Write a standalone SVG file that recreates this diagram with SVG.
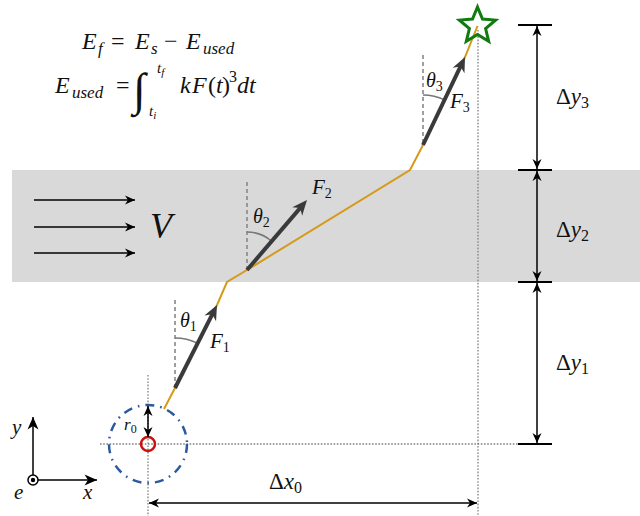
<svg xmlns="http://www.w3.org/2000/svg" width="640" height="516" viewBox="0 0 640 516">
<style>
.m{font-family:"Liberation Serif","Times New Roman",serif;font-style:italic;fill:#111}
.u{font-style:normal}
.dot{stroke:#808080;stroke-width:1.3;stroke-dasharray:1.6 1.6;fill:none}
.dash{stroke:#888;stroke-width:1.6;stroke-dasharray:4 3;fill:none}
.arc{stroke:#777;stroke-width:1.5;fill:none}
.vec{stroke:#3a3a3a;stroke-width:4;fill:none;marker-end:url(#vh)}
.dim{stroke:#000;stroke-width:1.5;fill:none;marker-start:url(#dh);marker-end:url(#dh)}
.flow{stroke:#000;stroke-width:1.5;fill:none;marker-end:url(#dh)}
.bar{stroke:#000;stroke-width:2.2}
</style>
<defs>
<marker id="vh" markerUnits="userSpaceOnUse" markerWidth="18" markerHeight="16" viewBox="-16 -8 18 16" refX="-8" refY="0" orient="auto" overflow="visible">
<path d="M0,0 L-15,-6.5 L-10.5,0 L-15,6.5 Z" fill="#3a3a3a"/>
</marker>
<marker id="dh" markerUnits="userSpaceOnUse" markerWidth="12" markerHeight="10" viewBox="-10 -5 12 10" refX="0" refY="0" orient="auto-start-reverse" overflow="visible">
<path d="M0,0 L-10,-4.5 L-7,0 L-10,4.5 Z" fill="#000"/>
</marker>
<marker id="ah" markerUnits="userSpaceOnUse" markerWidth="14" markerHeight="12" viewBox="-13 -6 14 12" refX="0" refY="0" orient="auto" overflow="visible">
<path d="M0,0 L-12.5,-5.5 L-9,0 L-12.5,5.5 Z" fill="#000"/>
</marker>
</defs>

<rect id="band" x="12" y="170" width="628" height="112" fill="#d9d9d9"/>

<g id="equations">
<text class="m" x="82" y="49" font-size="24">E</text>
<text class="m" x="98" y="54" font-size="17">f</text>
<text class="m u" x="111" y="49" font-size="24">=</text>
<text class="m" x="135" y="49" font-size="24">E</text>
<text class="m" x="151" y="54" font-size="17">s</text>
<text class="m u" x="164" y="49" font-size="24">−</text>
<text class="m" x="186" y="49" font-size="24">E</text>
<text class="m" x="203" y="54" font-size="17">used</text>
<text class="m" x="55" y="93" font-size="24">E</text>
<text class="m" x="72" y="98" font-size="17">used</text>
<text class="m u" x="116" y="93" font-size="24">=</text>
<text class="m" x="133" y="105" font-size="46">∫</text>
<text class="m" x="157" y="73" font-size="15">t<tspan font-size="11" dy="3">f</tspan></text>
<text class="m" x="149" y="116" font-size="15">t<tspan font-size="11" dy="3">i</tspan></text>
<text class="m" x="180" y="93" font-size="24">k</text>
<text class="m" x="192" y="93" font-size="24">F</text>
<text class="m u" x="208" y="93" font-size="24">(</text>
<text class="m" x="216" y="93" font-size="24">t</text>
<text class="m u" x="222" y="93" font-size="24">)</text>
<text class="m u" x="229" y="82" font-size="16">3</text>
<text class="m" x="237" y="93" font-size="24">d</text>
<text class="m" x="249" y="93" font-size="24">t</text>
</g>

<g id="guides">
<line class="dot" x1="148" y1="375" x2="148" y2="516"/>
<line class="dot" x1="100" y1="444" x2="520" y2="444"/>
<line class="dot" x1="478" y1="30" x2="478" y2="516"/>
</g>

<g id="flow">
<line class="flow" x1="34" y1="200" x2="135" y2="200"/>
<line class="flow" x1="34" y1="227" x2="135" y2="227"/>
<line class="flow" x1="34" y1="253" x2="135" y2="253"/>
<text class="m" x="150" y="238" font-size="36">V</text>
</g>

<g id="start">
<circle cx="148" cy="444" r="39" fill="none" stroke="#2d5a9e" stroke-width="2.5" stroke-dasharray="9 6 1.6 6"/>
<circle cx="148" cy="444" r="7" fill="none" stroke="#cc1010" stroke-width="2.5"/>
<line class="dim" x1="148" y1="406" x2="148" y2="437" stroke-width="1.3"/>
<text class="m" x="124" y="430" font-size="17">r<tspan class="u" font-size="12" dy="3">0</tspan></text>
</g>

<g id="connectors">
<polyline points="164,409 175,388 217,305 227,282 247,270 410,170 423,145 465,57 477.5,26" fill="none" stroke="#d49b1a" stroke-width="2"/>
</g>

<g id="F1">
<line class="dash" x1="175" y1="300" x2="175" y2="388"/>
<path class="arc" d="M175,338 A50,50 0 0 1 197.6,343.4"/>
<line class="vec" x1="175" y1="388" x2="213.4" y2="312.1"/>
<text class="m" x="180" y="327" font-size="20">θ<tspan class="u" font-size="14" dy="4">1</tspan></text>
<text class="m" x="210" y="348" font-size="21">F<tspan class="u" font-size="14" dy="4">1</tspan></text>
</g>

<g id="F2">
<line class="dash" x1="247" y1="182" x2="247" y2="270"/>
<path class="arc" d="M247,232 A38,38 0 0 1 271.7,241.2"/>
<line class="vec" x1="247" y1="270" x2="301.8" y2="206.1"/>
<text class="m" x="253" y="223" font-size="20">θ<tspan class="u" font-size="14" dy="4">2</tspan></text>
<text class="m" x="312" y="194" font-size="21">F<tspan class="u" font-size="14" dy="4">2</tspan></text>
</g>

<g id="F3">
<line class="dash" x1="423" y1="55" x2="423" y2="145"/>
<path class="arc" d="M423,95 A50,50 0 0 1 444.6,99.9"/>
<line class="vec" x1="423" y1="145" x2="461.6" y2="64.2"/>
<text class="m" x="426" y="87" font-size="20">θ<tspan class="u" font-size="14" dy="4">3</tspan></text>
<text class="m" x="450" y="108" font-size="21">F<tspan class="u" font-size="14" dy="4">3</tspan></text>
</g>

<g id="goal">
<polygon points="477.5,7 482.5,19.1 495.6,20.1 485.6,28.6 488.7,41.4 477.5,34.5 466.3,41.4 469.4,28.6 459.4,20.1 472.5,19.1" fill="none" stroke="#117a11" stroke-width="3" stroke-linejoin="miter"/>
</g>

<g id="dimensions">
<line class="bar" x1="518" y1="25" x2="552" y2="25"/>
<line class="bar" x1="518" y1="170" x2="552" y2="170"/>
<line class="bar" x1="518" y1="282" x2="552" y2="282"/>
<line class="bar" x1="518" y1="444" x2="552" y2="444"/>
<line class="dim" x1="537" y1="26" x2="537" y2="169"/>
<line class="dim" x1="537" y1="171" x2="537" y2="281"/>
<line class="dim" x1="537" y1="283" x2="537" y2="443"/>
<text class="m" x="556" y="104" font-size="23"><tspan class="u">Δ</tspan>y<tspan class="u" font-size="16" dy="4">3</tspan></text>
<text class="m" x="556" y="237" font-size="23"><tspan class="u">Δ</tspan>y<tspan class="u" font-size="16" dy="4">2</tspan></text>
<text class="m" x="556" y="370" font-size="23"><tspan class="u">Δ</tspan>y<tspan class="u" font-size="16" dy="4">1</tspan></text>
<line class="dim" x1="149" y1="503" x2="477" y2="503"/>
<text class="m" x="269" y="489" font-size="23"><tspan class="u">Δ</tspan>x<tspan class="u" font-size="16" dy="4">0</tspan></text>
</g>

<g id="axes">
<line x1="33" y1="475" x2="33" y2="417" stroke="#000" stroke-width="1.5" marker-end="url(#ah)"/>
<line x1="38" y1="480" x2="97" y2="480" stroke="#000" stroke-width="1.5" marker-end="url(#ah)"/>
<circle cx="33" cy="480" r="5" fill="#fff" stroke="#000" stroke-width="1.5"/>
<circle cx="33" cy="480" r="2.2" fill="#000"/>
<text class="m" x="12" y="434" font-size="21">y</text>
<text class="m" x="14" y="499" font-size="21">e</text>
<text class="m" x="83" y="499" font-size="21">x</text>
</g>
</svg>
